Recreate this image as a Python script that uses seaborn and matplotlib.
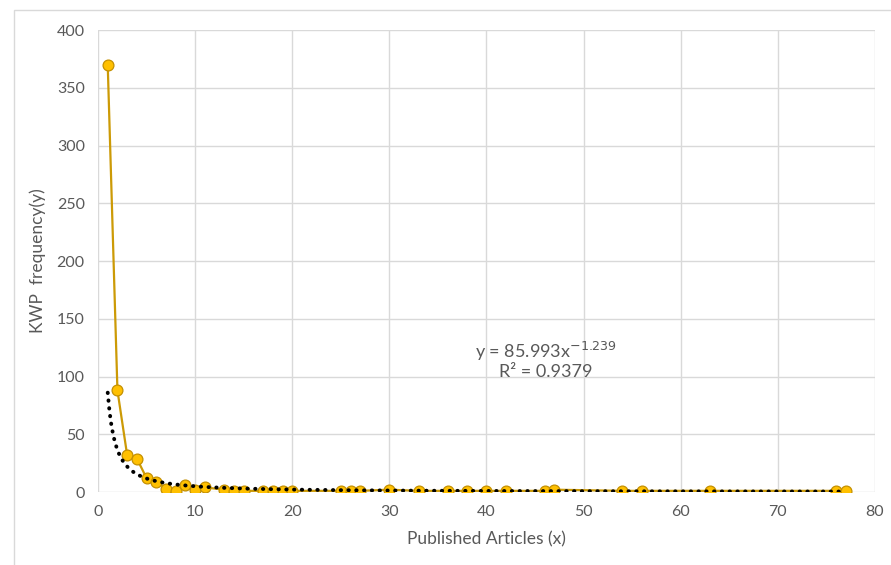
import numpy as np
import pandas as pd
import seaborn as sns
import matplotlib.pyplot as plt
from matplotlib.patches import Rectangle

# data
articles = [1, 2, 3, 4, 5, 6, 7, 8, 9, 10, 11, 13, 14, 15, 17, 18, 19, 20,
            25, 26, 27, 30, 33, 36, 38, 40, 42, 46, 47, 54, 56, 63, 76, 77]
kwp_freq = [370, 88, 32, 29, 12, 9, 3, 1, 6, 2, 4, 2, 1, 1, 1, 1, 1, 1,
            1, 1, 1, 2, 1, 1, 1, 1, 1, 1, 2, 1, 1, 1, 1, 1]

# power trendline shown on the chart
fit_a = 85.993
fit_b = -1.239
fit_r2 = 0.9379

x_ticks = list(range(0, 81, 10))
y_ticks = list(range(0, 401, 50))

sns.set_style("white")
plt.rcParams['font.family'] = ['Lato', 'DejaVu Sans']

grey_txt = "#595959"
grid_col = "#D9D9D9"

df = pd.DataFrame({"x": articles, "y": kwp_freq})
fit_x = np.linspace(min(articles), max(articles), 400)
df_fit = pd.DataFrame({"x": fit_x, "y": fit_a * fit_x ** fit_b})

fig = plt.figure(figsize=(8.91, 5.65), dpi=100)
ax = fig.add_axes([0.110, 0.1292, 0.872, 0.8177])

sns.lineplot(data=df, x="x", y="y", ax=ax, sort=False, color="#CC9A06",
             linewidth=1.6, marker="o", markersize=7.8,
             markerfacecolor="#FFC000", markeredgecolor="#C49000",
             markeredgewidth=0.9, zorder=3)
sns.lineplot(data=df_fit, x="x", y="y", ax=ax, color="black",
             linewidth=2.8, linestyle=(0, (0.1, 1.9)),
             dash_capstyle="round", zorder=4)

ax.set_xlim(0, 80)
ax.set_ylim(0, 400)
ax.set_xticks(x_ticks)
ax.set_yticks(y_ticks)
ax.grid(True, color=grid_col, linewidth=1)
for s in ax.spines.values():
    s.set_visible(False)
ax.tick_params(axis="both", length=0, labelsize=11.5, labelcolor=grey_txt)
ax.tick_params(axis="y", pad=9.5)
ax.tick_params(axis="x", pad=9)

ax.set_xlabel("Published Articles (x)", fontsize=12.5, color=grey_txt, labelpad=9)
ax.set_ylabel("KWP  frequency(y)", fontsize=12.5, color=grey_txt, labelpad=8)

ax.text(46.1, 122, "y = 85.993x$^{-1.239}$", fontsize=13, color=grey_txt,
        ha="center", va="center")
ax.text(46.1, 104, "R² = {}".format(fit_r2), fontsize=13, color=grey_txt,
        ha="center", va="center")

# outer chart border
fig.patches.append(Rectangle((14 / 891, -0.01), 1.0, 1 - 10 / 565 + 0.01,
                             transform=fig.transFigure, fill=False,
                             edgecolor="#D9D9D9", linewidth=1))

fig.savefig("out.png", dpi=100)
